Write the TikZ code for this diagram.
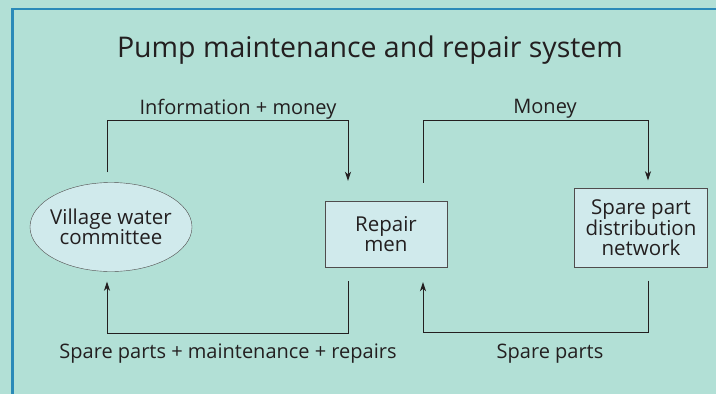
\documentclass[tikz,border=0pt]{standalone}
\usepackage{fontspec}
\setmainfont{Open Sans}
\usetikzlibrary{shapes.geometric,arrows.meta,positioning}
\definecolor{bgteal}{HTML}{B2E0D6}
\definecolor{boxfill}{HTML}{D0EAEC}
\definecolor{frameblue}{HTML}{2A8AB8}
\definecolor{inkgray}{HTML}{231F20}
\tikzset{
  unitbox/.style={draw=inkgray!80,fill=boxfill,align=center,font=\fontsize{20.5}{20.5}\selectfont,text=inkgray,inner sep=0pt},
  flow/.style={draw=inkgray,line width=0.9pt,->},
  flowlabel/.style={font=\fontsize{20}{22}\selectfont,text=inkgray}
}
\begin{document}
\begin{tikzpicture}[x=1pt,y=-1pt,>={Stealth[length=9pt,width=6pt,inset=2.5pt]}]
  \fill[bgteal] (0,0) rectangle (716,394);
  \useasboundingbox (0,0) rectangle (716,394);
  \draw[frameblue,line width=2.5pt] (12.5,394) |- (716,9);
  % title
  \node[font=\fontsize{28.5}{32}\selectfont,text=inkgray] (title) at (370,50.5) {Pump maintenance and repair system};
  % units
  \node[unitbox,ellipse,inner xsep=-15pt,minimum width=162pt,minimum height=89pt] (vwc) at (111,227) {Village water\\committee};
  \node[unitbox,minimum width=122pt,minimum height=66pt] (rep) at (386,234) {Repair\\men};
  \node[unitbox,minimum width=133pt,minimum height=79pt] (spd) at (641,228) {Spare part\\distribution\\network};
  % flows
  \draw[flow] ([shift={(-4,-10)}]vwc.north) -- ++(0,-52) -| ([shift={(-38,-20)}]rep.north);
  \draw[flow] ([shift={(-38,14)}]rep.south) -- ++(0,52) -| ([shift={(-4,10)}]vwc.south);
  \draw[flow] ([shift={(37,-18)}]rep.north) -- ++(0,-62) -| ([shift={(7,-8)}]spd.north);
  \draw[flow] ([shift={(7,13)}]spd.south) -- ++(0,52) -| ([shift={(37,15)}]rep.south);
  % labels
  \node[flowlabel] (infomoney) at (238,109) {Information + money};
  \node[flowlabel] (money) at (545,109) {Money};
  \node[flowlabel] (partsrepairs) at (228,354) {Spare parts + maintenance + repairs};
  \node[flowlabel] (parts) at (550,354) {Spare parts};
\end{tikzpicture}
\end{document}
